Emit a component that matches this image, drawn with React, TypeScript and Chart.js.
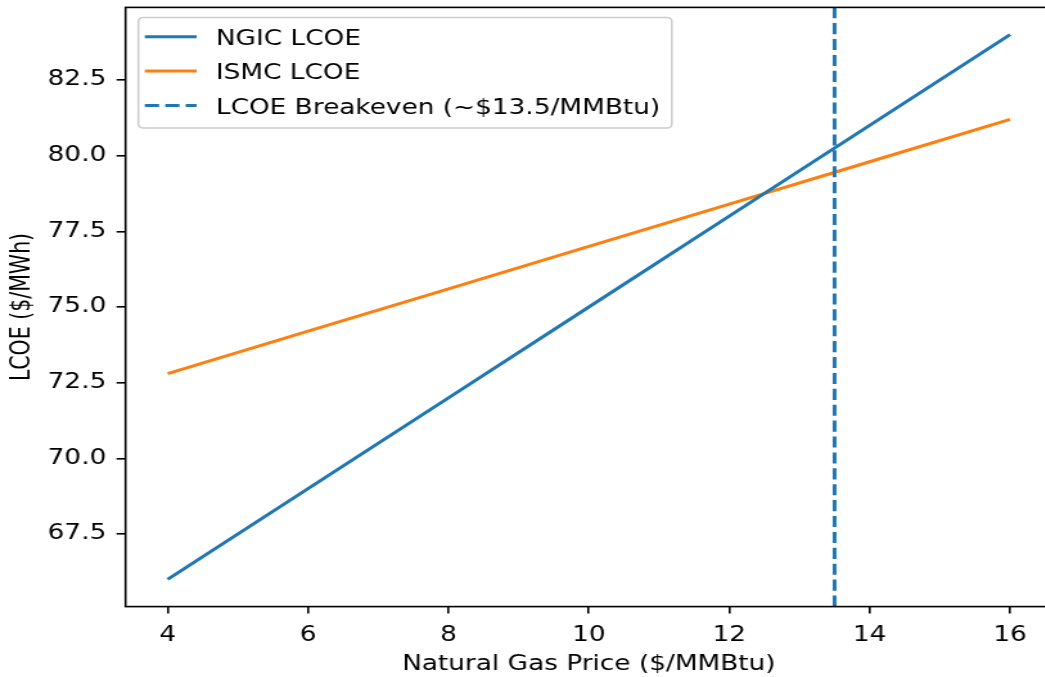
import React, { useEffect, useRef } from 'react';
import { Chart, registerables } from 'chart.js';

Chart.register(...registerables);

// ---- data ----
const gasPrices = [4, 6, 8, 10, 12, 14, 16];
const ngicLcoe = [66.0, 69.0, 72.0, 75.0, 78.0, 81.0, 84.0];
const ismcLcoe = [72.8, 74.2, 75.6, 77.0, 78.4, 79.8, 81.2];
const breakevenPrice = 13.5;
const xTicks = [4, 6, 8, 10, 12, 14, 16];
const yTicks = [67.5, 70.0, 72.5, 75.0, 77.5, 80.0, 82.5];
const seriesLabels = ['NGIC LCOE', 'ISMC LCOE', 'LCOE Breakeven (~$13.5/MMBtu)'];
const xTitle = 'Natural Gas Price ($/MMBtu)';
const yTitle = 'LCOE ($/MWh)';

// ---- style ----
const FONT = '"DejaVu Sans", sans-serif';
const FS = 20.5;
const SX = 1.285; // horizontal stretch of the reference picture
const W = 828;
const H = 677;
const BLUE = '#1f77b4';
const ORANGE = '#ff7f0e';

const allY = [...ngicLcoe, ...ismcLcoe];
const xMinD = Math.min(...gasPrices), xMaxD = Math.max(...gasPrices);
const yMinD = Math.min(...allY), yMaxD = Math.max(...allY);
const xPad = (xMaxD - xMinD) * 0.05;
const yPad = (yMaxD - yMinD) * 0.05;

const overlay = {
  id: 'overlay',
  afterDatasetsDraw(chart: any) {
    const { ctx, chartArea: a, scales } = chart;
    const x = scales.x.getPixelForValue(breakevenPrice);
    ctx.save();
    ctx.beginPath();
    ctx.rect(a.left, a.top, a.right - a.left, a.bottom - a.top);
    ctx.clip();
    ctx.strokeStyle = BLUE;
    ctx.lineWidth = 3;
    ctx.setLineDash([11.1, 4.8]);
    ctx.beginPath();
    ctx.moveTo(x, a.bottom);
    ctx.lineTo(x, a.top);
    ctx.stroke();
    ctx.restore();
  },
  afterDraw(chart: any) {
    const { ctx, chartArea: a } = chart;
    ctx.save();
    // axes frame
    ctx.strokeStyle = '#000';
    ctx.lineWidth = 1.6;
    ctx.strokeRect(a.left, a.top, a.right - a.left, a.bottom - a.top);

    // legend
    ctx.font = `${FS}px ${FONT}`;
    const maxW = Math.max(...seriesLabels.map((l) => ctx.measureText(l).width));
    const bx = a.left + 10;
    const by = a.top + 10;
    const handleX = bx + 5;
    const handleLen = 40.3;
    const textX = handleX + handleLen + 15;
    const bw = textX + maxW + 9 - bx;
    const rowGap = 34.3;
    const bh = 110.6;
    const r = 4;
    ctx.beginPath();
    ctx.moveTo(bx + r, by);
    ctx.lineTo(bx + bw - r, by);
    ctx.quadraticCurveTo(bx + bw, by, bx + bw, by + r);
    ctx.lineTo(bx + bw, by + bh - r);
    ctx.quadraticCurveTo(bx + bw, by + bh, bx + bw - r, by + bh);
    ctx.lineTo(bx + r, by + bh);
    ctx.quadraticCurveTo(bx, by + bh, bx, by + bh - r);
    ctx.lineTo(bx, by + r);
    ctx.quadraticCurveTo(bx, by, bx + r, by);
    ctx.closePath();
    ctx.fillStyle = 'rgba(255,255,255,0.8)';
    ctx.fill();
    ctx.strokeStyle = '#cccccc';
    ctx.lineWidth = 1.5;
    ctx.stroke();

    const colors = [BLUE, ORANGE, BLUE];
    const dashes = [[], [], [11.1, 4.8]];
    seriesLabels.forEach((label, i) => {
      const ty = by + 22.4 + i * rowGap;
      ctx.strokeStyle = colors[i];
      ctx.lineWidth = 3;
      ctx.setLineDash(dashes[i]);
      ctx.beginPath();
      ctx.moveTo(handleX, ty - 3);
      ctx.lineTo(handleX + handleLen, ty - 3);
      ctx.stroke();
      ctx.setLineDash([]);
      ctx.fillStyle = '#000';
      ctx.textAlign = 'left';
      ctx.textBaseline = 'middle';
      ctx.fillText(label, textX, ty);
    });
    ctx.restore();
  },
};

export default function App() {
  const ref = useRef<HTMLCanvasElement | null>(null);

  useEffect(() => {
    if (!ref.current) return;
    Chart.defaults.font.family = FONT;
    const chart = new Chart(ref.current, {
      type: 'line',
      data: {
        datasets: [
          {
            label: seriesLabels[0],
            data: gasPrices.map((x, i) => ({ x, y: ngicLcoe[i] })),
            borderColor: BLUE,
            backgroundColor: BLUE,
            borderWidth: 3,
            pointRadius: 0,
            tension: 0,
          },
          {
            label: seriesLabels[1],
            data: gasPrices.map((x, i) => ({ x, y: ismcLcoe[i] })),
            borderColor: ORANGE,
            backgroundColor: ORANGE,
            borderWidth: 3,
            pointRadius: 0,
            tension: 0,
          },
        ],
      },
      options: {
        animation: false,
        responsive: false,
        devicePixelRatio: 1,
        layout: { padding: { top: 7.4, right: 9.2, bottom: 0, left: 0 } },
        plugins: { legend: { display: false }, tooltip: { enabled: false } },
        scales: {
          x: {
            type: 'linear',
            min: xMinD - xPad,
            max: xMaxD + xPad,
            afterBuildTicks: (s: any) => {
              s.ticks = xTicks.map((v) => ({ value: v }));
            },
            afterFit: (s: any) => {
              s.height = H - 606.6;
              s.paddingLeft = 0;
              s.paddingRight = 0;
              s.paddingTop = 0;
              s.paddingBottom = 0;
            },
            ticks: {
              color: '#000',
              font: { size: FS, family: FONT },
              padding: 9.5,
              maxRotation: 0,
              autoSkip: false,
              callback: (v: any) => String(v),
            },
            grid: { drawOnChartArea: false, drawTicks: true, tickLength: 7, color: '#000', lineWidth: 1.6 },
            border: { display: false },
            title: { display: true, text: xTitle, color: '#000', font: { size: FS, family: FONT }, padding: { top: 0, bottom: 0 } },
          },
          y: {
            type: 'linear',
            min: yMinD - yPad,
            max: yMaxD + yPad,
            afterBuildTicks: (s: any) => {
              s.ticks = yTicks.map((v) => ({ value: v }));
            },
            afterFit: (s: any) => {
              s.width = 97.7;
              s.paddingLeft = 0;
              s.paddingRight = 0;
              s.paddingTop = 0;
              s.paddingBottom = 0;
            },
            ticks: {
              color: '#000',
              font: { size: FS, family: FONT },
              padding: 8,
              autoSkip: false,
              callback: (v: any) => Number(v).toFixed(1),
            },
            grid: { drawOnChartArea: false, drawTicks: true, tickLength: 7, color: '#000', lineWidth: 1.6 },
            border: { display: false },
            title: { display: true, text: yTitle, color: '#000', font: { size: FS, family: FONT }, padding: { top: 5, bottom: 0 } },
          },
        },
      },
      plugins: [overlay],
    } as any);
    return () => chart.destroy();
  }, []);

  return (
    <div style={{ position: 'fixed', left: 0, top: 0, width: 1045, height: 677, overflow: 'hidden', background: '#fff' }}>
      <div style={{ width: W, height: H, transform: `scaleX(${SX})`, transformOrigin: '0 0' }}>
        <canvas ref={ref} width={W} height={H} style={{ display: 'block', width: W, height: H }} />
      </div>
    </div>
  );
}
